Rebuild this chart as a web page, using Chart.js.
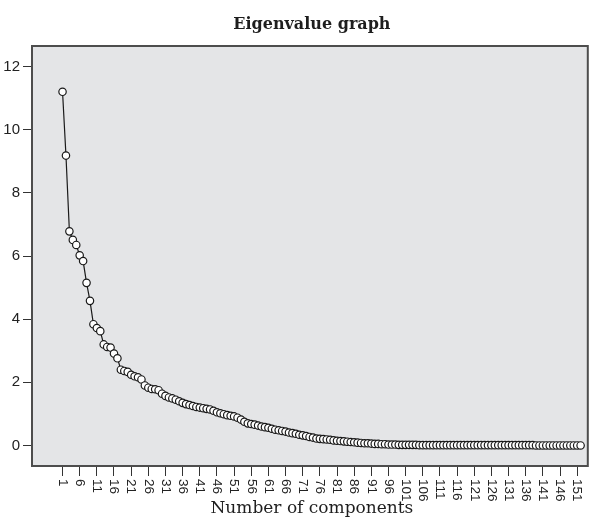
<!DOCTYPE html>
<html>
<head>
<meta charset="utf-8">
<title>Eigenvalue graph</title>
<script src="https://cdn.jsdelivr.net/npm/chart.js@4/dist/chart.umd.min.js"></script>
<style>
    html, body { margin: 0; padding: 0; background: #fff; }
    #wrap { width: 593px; height: 525px; }
</style>
</head>
<body>
<div id="wrap"><canvas id="scree" width="593" height="525"></canvas></div>
<script>
// eigenvalues, component 1..152
const eigenvalues = [
    11.20, 9.18, 6.78, 6.51, 6.35, 6.02, 5.84, 5.15, 4.58, 3.84,
    3.72, 3.62, 3.20, 3.12, 3.10, 2.91, 2.76, 2.40, 2.36, 2.33,
    2.24, 2.19, 2.16, 2.09, 1.90, 1.83, 1.79, 1.78, 1.75, 1.64,
    1.57, 1.52, 1.49, 1.45, 1.40, 1.35, 1.31, 1.28, 1.25, 1.22,
    1.20, 1.18, 1.16, 1.14, 1.10, 1.05, 1.02, 0.99, 0.96, 0.94,
    0.92, 0.88, 0.82, 0.75, 0.70, 0.68, 0.66, 0.63, 0.60, 0.58,
    0.56, 0.53, 0.50, 0.48, 0.46, 0.44, 0.41, 0.39, 0.37, 0.34,
    0.32, 0.30, 0.27, 0.25, 0.22, 0.21, 0.20, 0.19, 0.18, 0.16,
    0.15, 0.14, 0.13, 0.12, 0.11, 0.10, 0.09, 0.08, 0.07, 0.07,
    0.06, 0.05, 0.05, 0.04, 0.04, 0.03, 0.03, 0.03, 0.02, 0.02,
    0.02, 0.02, 0.02, 0.02, 0.01, 0.01, 0.01, 0.01, 0.01, 0.01,
    0.01, 0.01, 0.01, 0.01, 0.01, 0.01, 0.01, 0.01, 0.01, 0.01,
    0.01, 0.01, 0.01, 0.01, 0.01, 0.01, 0.01, 0.01, 0.01, 0.01,
    0.01, 0.01, 0.01, 0.01, 0.01, 0.01, 0.01, 0.01, 0.00, 0.00,
    0.00, 0.00, 0.00, 0.00, 0.00, 0.00, 0.00, 0.00, 0.00, 0.00,
    0.00, 0.00
];
const components = eigenvalues.map((_, i) => i + 1);

const xTickLabels = [1, 6, 11, 16, 21, 26, 31, 36, 41, 46, 51, 56, 61, 66, 71, 76,
    81, 86, 91, 96, 101, 106, 111, 116, 121, 126, 131, 136, 141, 146, 151];
const yTickLabels = [0, 2, 4, 6, 8, 10, 12];

const chartTitle = 'Eigenvalue graph';
const xTitle = 'Number of components';

const points = components.map((c, i) => ({ x: c, y: eigenvalues[i] }));

// grey plot panel with a dark frame, and the texts drawn by hand
const screeDecor = {
    id: 'screeDecor',
    beforeDraw(chart) {
        const { ctx, chartArea: a } = chart;
        ctx.save();
        ctx.fillStyle = '#e4e5e7';
        ctx.fillRect(a.left, a.top, a.right - a.left, a.bottom - a.top);
        ctx.restore();
    },
    afterDraw(chart) {
        const { ctx, chartArea: a } = chart;
        const xs = chart.scales.x;
        ctx.save();
        ctx.strokeStyle = '#4d4d4d';
        ctx.lineWidth = 2;
        ctx.strokeRect(a.left, a.top, a.right - a.left, a.bottom - a.top);

        // rotated tick labels, reading downwards from the tick
        ctx.fillStyle = '#222';
        ctx.font = '13.5px "Liberation Sans", Arial, sans-serif';
        ctx.textAlign = 'left';
        ctx.textBaseline = 'middle';
        xTickLabels.forEach(v => {
            const px = xs.getPixelForValue(v);
            ctx.save();
            ctx.translate(px, a.bottom + 13);
            ctx.rotate(Math.PI / 2);
            ctx.fillText(String(v), 0, 0);
            ctx.restore();
        });

        ctx.textAlign = 'center';
        ctx.textBaseline = 'alphabetic';
        ctx.fillStyle = '#1e1e1e';
        ctx.font = 'bold 16px "DejaVu Serif", serif';
        ctx.fillText(chartTitle, (a.left + a.right) / 2 + 2, 29);
        ctx.font = '17px "DejaVu Serif", serif';
        ctx.fillText(xTitle, (a.left + a.right) / 2 + 2, 513);
        ctx.restore();
    }
};

new Chart(document.getElementById('scree'), {
    type: 'line',
    data: {
        datasets: [{
            data: points,
            borderColor: '#1a1a1a',
            borderWidth: 1.2,
            pointRadius: 3.7,
            pointBackgroundColor: '#ffffff',
            pointBorderColor: '#1a1a1a',
            pointBorderWidth: 1.2,
            tension: 0
        }]
    },
    options: {
        responsive: false,
        animation: false,
        events: [],
        layout: { padding: { top: 46, right: 2, left: 0, bottom: 0 } },
        plugins: {
            legend: { display: false },
            title: { display: false },
            tooltip: { enabled: false }
        },
        scales: {
            x: {
                type: 'linear',
                min: -7.9,
                max: 154.1,
                afterBuildTicks: scale => {
                    scale.ticks = xTickLabels.map(v => ({ value: v }));
                },
                afterFit: scale => { scale.height = 59; },
                border: { display: false },
                grid: {
                    drawOnChartArea: false,
                    drawTicks: true,
                    tickLength: 10,
                    color: '#333',
                    lineWidth: 1
                },
                ticks: { display: false, autoSkip: false }
            },
            y: {
                min: -0.65,
                max: 12.65,
                afterBuildTicks: scale => {
                    scale.ticks = yTickLabels.map(v => ({ value: v }));
                },
                afterFit: scale => { scale.width = 32; },
                border: { display: false },
                grid: {
                    drawOnChartArea: false,
                    drawTicks: true,
                    tickLength: 9,
                    color: '#333',
                    lineWidth: 1
                },
                ticks: {
                    padding: 3,
                    color: '#222',
                    font: { family: '"Liberation Sans", Arial, sans-serif', size: 15 }
                }
            }
        }
    },
    plugins: [screeDecor]
});
</script>
</body>
</html>
